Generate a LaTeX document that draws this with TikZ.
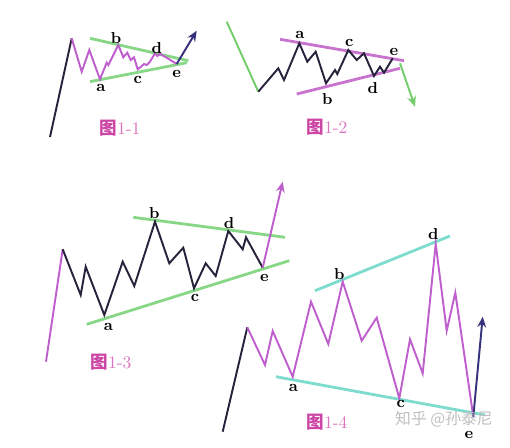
\documentclass[tikz,border=0pt]{standalone}
\usepackage{fontspec}
\newfontfamily\cjk{Noto Sans CJK SC}
\usetikzlibrary{arrows.meta}

\definecolor{wavepurple}{RGB}{190,95,205}
\definecolor{trendgreen}{RGB}{135,215,135}
\definecolor{bandpink}{RGB}{200,115,205}
\definecolor{bandcyan}{RGB}{125,220,205}
\definecolor{inkdark}{RGB}{40,35,60}
\definecolor{arrownavy}{RGB}{55,50,125}
\definecolor{arrowgreen}{RGB}{115,205,105}
\definecolor{capmagenta}{RGB}{205,70,165}

\tikzset{
  wave/.style={line width=1.1pt, line join=miter},
  band/.style={line width=1.6pt},
  pt/.style={font=\bfseries\small, inner sep=1pt},
  figcap/.style={font=\normalsize, text=capmagenta!75, inner sep=1pt},
  breakout/.style={line width=1.1pt, -{Stealth[length=6pt,width=5pt]}}
}

\begin{document}
\begin{tikzpicture}[x=0.02cm, y=-0.02cm]
\useasboundingbox (0,0) rectangle (510,447);

% Figure 1-1: rising line into a narrowing triangle
\coordinate (p11a) at (100,79.3);
\coordinate (p11b) at (118.3,45);
\coordinate (p11c) at (137.7,69.3);
\coordinate (p11d) at (155,53.3);
\coordinate (p11e) at (176.7,64);
\draw[band, trendgreen] (90,38.3) -- (188.3,60.7);
\draw[band, trendgreen] (90,81.7) -- (186.7,62.7);
\draw[wave, inkdark] (50,137) -- (71.7,38.3);
\draw[wave, wavepurple] (71.7,38.3) -- (81.7,71.7) -- (89.3,50) -- (p11a)
  -- (106.7,62.7) -- (108.3,65) -- (p11b) -- (123.3,57.3) -- (127.3,52.7)
  -- (130.7,60) -- (134,57.3) -- (p11c) -- (141,66.7) -- (144,64)
  -- (146.7,65) -- (150,61.7) -- (p11d) -- (157.3,56) -- (160,54)
  -- (166,57.3) -- (p11e);
\draw[breakout, arrownavy] (p11e) -- (196.7,30.7);
\node[pt] (l11a) at (101,88.3) {a};
\node[pt] (l11b) at (116,38.3) {b};
\node[pt] (l11c) at (137.7,80) {c};
\node[pt] (l11d) at (156.7,48.3) {d};
\node[pt] (l11e) at (176.7,74) {e};
\node[figcap] (cap11) at (120,128) {{\cjk\bfseries\color{capmagenta}图}1-1};

% Figure 1-2: falling line into a narrowing triangle
\coordinate (p12a) at (299.3,43.3);
\coordinate (p12b) at (326,83.3);
\coordinate (p12c) at (348.3,50);
\coordinate (p12d) at (374,76);
\coordinate (p12e) at (392.7,58.3);
\draw[band, bandpink] (280,39.3) -- (404,60.7);
\draw[band, bandpink] (296.7,94) -- (400,68.3);
\draw[wave, arrowgreen] (226.7,21.7) -- (258.3,91.7);
\draw[wave, inkdark] (258.3,91.7) -- (278.3,68.3) -- (284,80) -- (p12a)
  -- (307.3,61.7) -- (315.7,51.7) -- (p12b) -- (335,70) -- (337.3,74)
  -- (p12c) -- (356.7,60) -- (364,53.3) -- (p12d) -- (380,66.7)
  -- (384,72.7) -- (p12e);
\draw[breakout, arrowgreen] (400,63.3) -- (415,106.7);
\node[pt] (l12a) at (300,35) {a};
\node[pt] (l12b) at (327.3,99.3) {b};
\node[pt] (l12c) at (349.3,42.7) {c};
\node[pt] (l12d) at (372.7,88.3) {d};
\node[pt] (l12e) at (394,51.7) {e};
\node[figcap] (cap12) at (327,127) {{\cjk\bfseries\color{capmagenta}图}1-2};

% Figure 1-3: rising line into a widening-floor triangle
\coordinate (p13a) at (104.3,315);
\coordinate (p13b) at (155,221.7);
\coordinate (p13c) at (194,288.3);
\coordinate (p13d) at (228.3,231);
\coordinate (p13e) at (262.7,267.7);
\draw[band, trendgreen] (133.3,217.3) -- (285,237.3);
\draw[band, trendgreen] (86.7,324.3) -- (289.3,260.7);
\draw[wave, wavepurple] (46,361.7) -- (62.7,249.3);
\draw[wave, inkdark] (62.7,249.3) -- (80.7,295) -- (85.7,266.7) -- (p13a)
  -- (122.7,261.7) -- (134.3,286) -- (p13b) -- (169.3,263.3)
  -- (183.3,247.7) -- (p13c) -- (205.7,263.3) -- (215.7,276) -- (p13d)
  -- (242.7,249.3) -- (246,237.3) -- (p13e);
\draw[breakout, wavepurple] (p13e) -- (282.7,181.7);
\node[pt] (l13a) at (108.3,326.7) {a};
\node[pt] (l13b) at (154.3,212.7) {b};
\node[pt] (l13c) at (195,297.7) {c};
\node[pt] (l13d) at (229,222.7) {d};
\node[pt] (l13e) at (264.3,277.7) {e};
\node[figcap] (cap13) at (111,362) {{\cjk\bfseries\color{capmagenta}图}1-3};

% Figure 1-4: expanding triangle
\coordinate (p14a) at (292.7,376.7);
\coordinate (p14b) at (342.7,281.7);
\coordinate (p14c) at (399.3,398.3);
\coordinate (p14d) at (435.7,244);
\coordinate (p14e) at (473.3,416.7);
\draw[band, bandcyan] (315,290.7) -- (450,236);
\draw[band, bandcyan] (276,376.7) -- (485,415);
\draw[wave, inkdark] (222.7,431.7) -- (247.3,327.3);
\draw[wave, wavepurple] (247.3,327.3) -- (265,365) -- (272.7,331) -- (p14a)
  -- (311,301.7) -- (328.3,344) -- (p14b) -- (361.7,340.7)
  -- (376.7,317.7) -- (p14c) -- (410,339.3) -- (422.7,373.3) -- (p14d)
  -- (446.7,330.7) -- (455.3,292.7) -- (p14e);
\draw[breakout, arrownavy] (p14e) -- (482.7,316.7);
\node[pt] (l14a) at (293.3,388.3) {a};
\node[pt] (l14b) at (339.3,274) {b};
\node[pt] (l14c) at (400.7,404) {c};
\node[pt] (l14d) at (433.3,234) {d};
\node[pt] (l14e) at (469,435) {e};

\node[figcap] (cap14) at (327,422) {{\cjk\bfseries\color{capmagenta}图}1-4};

% watermark
\node[font=\cjk\small, text=black!25, inner sep=0pt] (mark) at (444,419) {知乎 @孙泰尼};
\end{tikzpicture}
\end{document}
